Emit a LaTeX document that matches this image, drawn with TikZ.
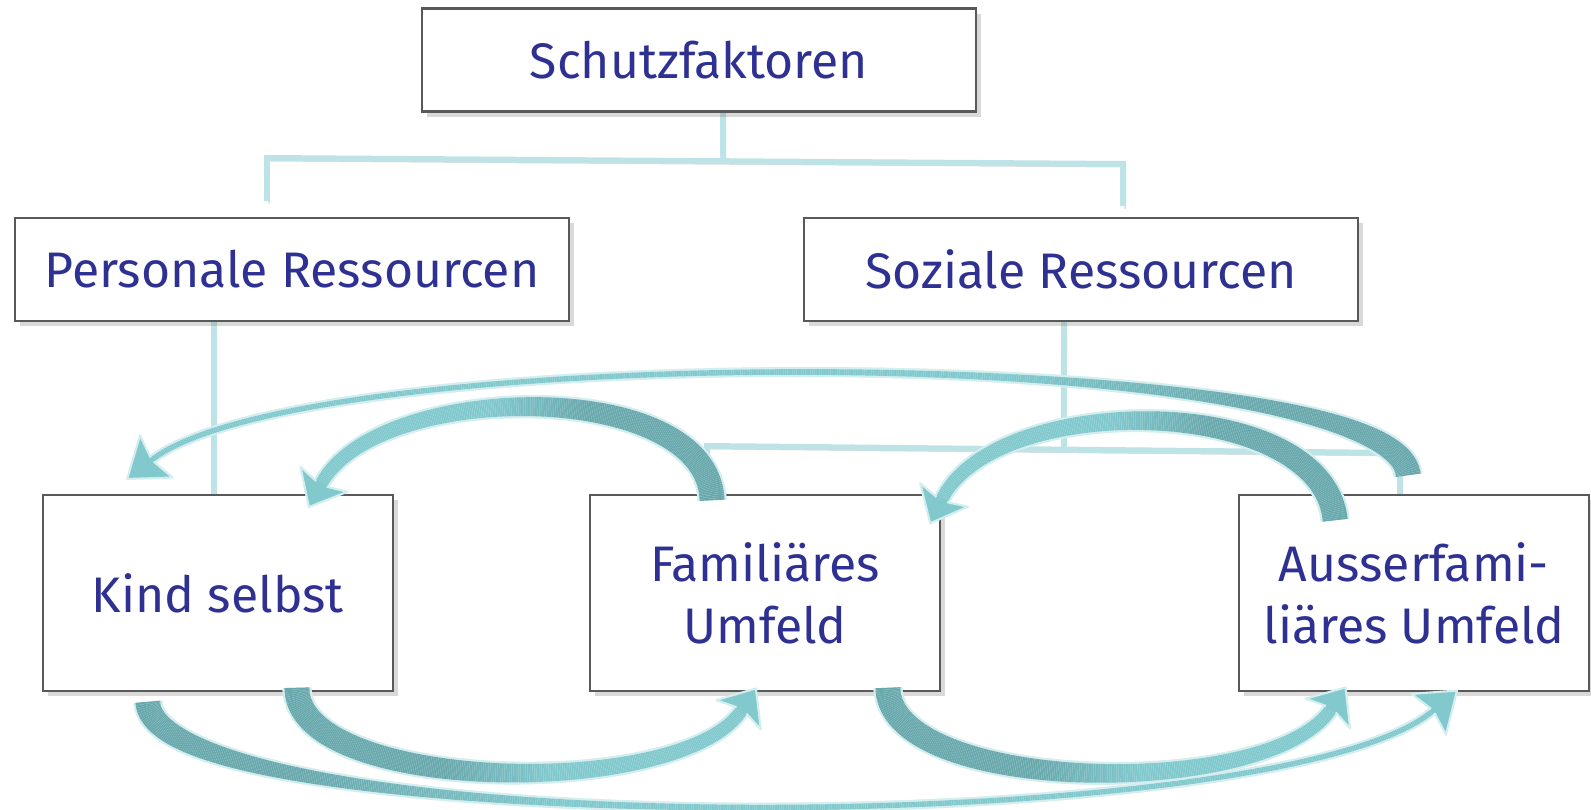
\documentclass[tikz,border=0pt]{standalone}
\usepackage{fontspec}
\setmainfont{Fira Sans}
\usetikzlibrary{calc, decorations.markings, shadows}

\definecolor{textblue}{RGB}{46,49,146}
\definecolor{arrlight}{RGB}{130,201,206}
\definecolor{arrdark}{RGB}{105,168,172}
\definecolor{arrrim}{RGB}{212,238,240}
\definecolor{linecyan}{RGB}{190,227,231}

% one slice of a tapering ribbon: tail width, neck width, taper exponent, end of the dark part
\newcommand\ribbonmark[4]{%
  \pgfmathsetmacro\ribf{(\pgfkeysvalueof{/pgf/decoration/mark info/distance from start})/(\pgfdecoratedpathlength)}%
  \pgfmathsetmacro\ribr{0.5*(#2+(#1-#2)*(1-\ribf)^#3)}%
  \pgfmathtruncatemacro\ribd{max(0,min(100,(#4-\ribf)*500))}%
  \fill[arrrim] (-0.4pt,{-\ribr pt-0.6pt}) rectangle (0.4pt,{\ribr pt+0.6pt});
  \fill[arrdark!\ribd!arrlight] (-0.4pt,{-\ribr pt}) rectangle (0.4pt,{\ribr pt});
}
% head of the ribbon: neck width, head length, head half width
\newcommand\ribbonhead[3]{%
  \fill[arrlight] (0pt,{#1/2}) -- (-1.5pt,#3) -- (#2,0pt) -- (-1.5pt,-#3) -- (0pt,{-#1/2}) -- cycle;
  \draw[arrrim, line width=0.6pt, line join=round] (0pt,{#1/2}) -- (-1.5pt,#3) -- (#2,0pt) -- (-1.5pt,-#3) -- (0pt,{-#1/2});
}

\tikzset{
  box/.style={draw=black!65, line width=0.6pt, fill=white, inner sep=0pt, align=center,
    text=textblue, font=\fontsize{14.2}{17.6}\selectfont,
    drop shadow={opacity=0.3, shadow xshift=1.5pt, shadow yshift=-1.5pt}},
  wide/.style={box, minimum width=5.54cm, minimum height=1.03cm},
  tall/.style={box, minimum width=3.5cm, minimum height=1.96cm},
  conn/.style={draw=linecyan, line width=1.7pt,
    preaction={draw=black!12, transform canvas={xshift=0.6pt, yshift=-0.8pt}}},
  ribbon/.style n args={6}{decoration={markings,
      mark=between positions 0 and -#4 step 0.5pt with {\ribbonmark{#1}{#2}{#3}{#6}},
      mark=at position -#4 with {\ribbonhead{#2}{#4}{#5}}}, decorate},
  big/.style={ribbon={7.1pt}{3.4pt}{1}{7.5pt}{7.6pt}{0.55}},
  long/.style={ribbon={7.1pt}{1.5pt}{6}{9pt}{7.6pt}{0.33}}
}

\begin{document}
\begin{tikzpicture}[x=0.01cm, y=-0.01cm]
    \useasboundingbox (0,0) rectangle (1591,809);

    % tree lines
    \coordinate (forkL) at (267,158);
    \coordinate (forkR) at (1123,164);
    \coordinate (sozL) at (707,446);
    \coordinate (sozR) at (1400,453);
    \draw[conn] (723,111) -- ($(forkL)!0.533!(forkR)$);
    \draw[conn] ($(forkL)+(0,43)$) -- (forkL) -- (forkR) -- ($(forkR)+(0,42)$);
    \draw[conn] (214,322) -- (214,495);
    \draw[conn] (1064,322) -- ($(sozL)!0.515!(sozR)$);
    \draw[conn] (707,495) -- (sozL) -- (sozR) -- (1400,495);

    % boxes
    \node[wide] (schutz) at (699,60) {Schutzfaktoren};
    \node[wide] (personal) at (292,269.5) {Personale Ressourcen};
    \node[wide] (sozial) at (1081,269.5) {Soziale Ressourcen};
    \node[tall] (kind) at (218,593) {Kind selbst};
    \node[tall] (familie) at (765,593) {Familiäres\\Umfeld};
    \node[tall] (ausser) at (1414,593) {Ausserfami-\\liäres Umfeld};

    % arrows above
    \path[big] ($(familie.north)+(-53,5)$) .. controls +(-7,-130) and +(18,-125) .. ($(kind.north)+(96,12)$);
    \path[long] ($(ausser.north)+(-6,-20)$) .. controls +(-18,-133) and +(128,-128) .. ($(kind.north)+(-73,-28)$);
    \path[big] ($(ausser.north)+(-79,25)$) .. controls +(-15,-134) and +(18,-132) .. ($(familie.north)+(170,28)$);

    % arrows below
    \path[big] ($(kind.south)+(79,-3)$) .. controls +(3,112) and +(-9,112) .. ($(familie.south)+(-16,-3)$);
    \path[long] ($(kind.south)+(-70,11)$) .. controls +(12,138) and +(-131,138) .. ($(ausser.south)+(25,13)$);
    \path[big] ($(familie.south)+(123,-3)$) .. controls +(5,113) and +(-14,113) .. ($(ausser.south)+(-75,-4)$);
\end{tikzpicture}
\end{document}
